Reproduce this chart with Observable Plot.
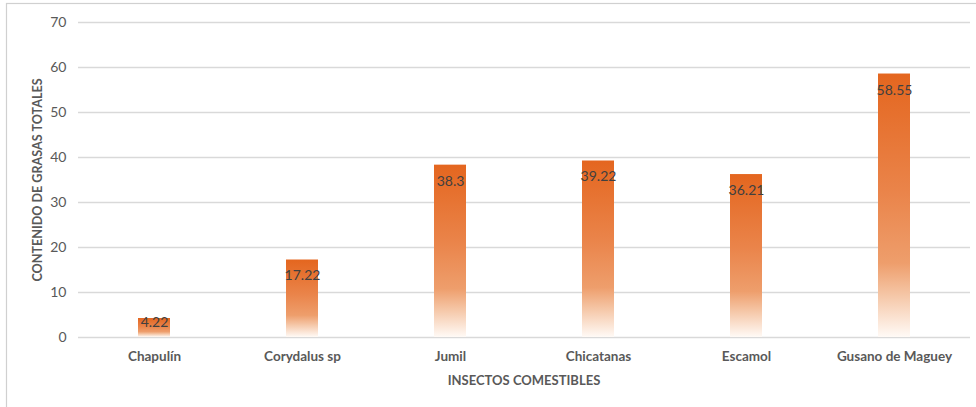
<!DOCTYPE html>
<html>
<head>
<meta charset="utf-8">
<script src="https://cdn.jsdelivr.net/npm/d3@7"></script>
<script src="https://cdn.jsdelivr.net/npm/@observablehq/plot@0.6"></script>
<style>
  html, body { margin: 0; padding: 0; background: #fff; }
  #chart { width: 976px; height: 407px; }
</style>
</head>
<body>
<div id="chart"></div>
<script>
const categories = ["Chapulín", "Corydalus sp", "Jumil", "Chicatanas", "Escamol", "Gusano de Maguey"];
const values = [4.22, 17.22, 38.3, 39.22, 36.21, 58.55];
const labels = ["4.22", "17.22", "38.3", "39.22", "36.21", "58.55"];
const yTicks = [0, 10, 20, 30, 40, 50, 60, 70];

const data = categories.map((c, i) => ({cat: c, v: values[i], label: labels[i]}));
const font = "Lato, 'Open Sans', sans-serif";

const plot = Plot.plot({
  width: 976,
  height: 407,
  marginLeft: 78,
  marginRight: 6,
  marginTop: 22,
  marginBottom: 70,
  style: {fontFamily: font, fontSize: "13px", color: "#595959", background: "#fff"},
  x: {domain: categories, paddingInner: 0.785, paddingOuter: 0.3925, label: null},
  y: {domain: [0, 70], ticks: yTicks, label: null},
  marks: [
    Plot.gridY(yTicks, {stroke: "#d9d9d9", strokeOpacity: 1, strokeWidth: 1.3}),
    Plot.barY(data, {x: "cat", y: "v", fill: "url(#barGrad)"}),
    Plot.text(data.filter(d => d.v >= 10), {x: "cat", y: "v", text: "label", dy: 16, fill: "#404040", fontSize: 14, fontFamily: font}),
    Plot.text(data.filter(d => d.v < 10), {x: "cat", y: "v", text: "label", dy: 4, fill: "#404040", fontSize: 14, fontFamily: font}),
    Plot.axisX({tickSize: 0, tickPadding: 14, fontWeight: "bold", fill: "#595959", fontSize: 13.5}),
    Plot.axisY(yTicks, {tickSize: 0, tickPadding: 12, fill: "#595959", fontSize: 14})
  ]
});

const svg = d3.select(plot);
const defs = svg.insert("defs", ":first-child");
const g = defs.append("linearGradient").attr("id", "barGrad")
  .attr("x1", 0).attr("y1", 0).attr("x2", 0).attr("y2", 1);
[["0%", "#e4661f"], ["45%", "#ea844a"], ["72%", "#ee9e6c"], ["84%", "#f5c6a6"], ["100%", "#fffaf6"]]
  .forEach(([o, c]) => g.append("stop").attr("offset", o).attr("stop-color", c));

// frame
svg.append("rect").attr("x", 6.5).attr("y", 3.5).attr("width", 980).attr("height", 420)
  .attr("fill", "none").attr("stroke", "#d0d0d0").attr("stroke-width", 1.2);

// axis titles
svg.append("text").attr("x", 524).attr("y", 385).attr("text-anchor", "middle")
  .attr("font-family", font).attr("font-size", 13).attr("font-weight", "bold").attr("fill", "#595959")
  .text("INSECTOS COMESTIBLES");
svg.append("text").attr("transform", "translate(42,180) rotate(-90)").attr("text-anchor", "middle")
  .attr("font-family", font).attr("font-size", 12.6).attr("font-weight", "bold").attr("fill", "#595959")
  .text("CONTENIDO DE GRASAS TOTALES");

document.getElementById("chart").appendChild(plot);
</script>
</body>
</html>
